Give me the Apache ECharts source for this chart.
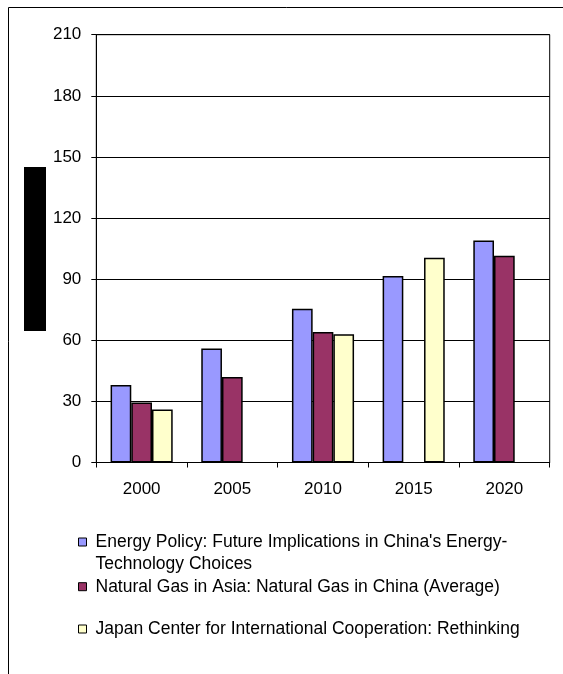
<!DOCTYPE html>
<html>
<head>
<meta charset="utf-8">
<script src="https://cdn.jsdelivr.net/npm/echarts@6/dist/echarts.min.js"></script>
<style>
html,body{margin:0;padding:0;background:#fff;}
#chart{width:563px;height:674px;}
</style>
</head>
<body>
<div id="chart"></div>
<script>
const categories = ['2000', '2005', '2010', '2015', '2020'];
const seriesNames = [
  "Energy Policy: Future Implications in China's Energy-Technology Choices",
  "Natural Gas in Asia: Natural Gas in China (Average)",
  "Japan Center for International Cooperation: Rethinking"
];
const energyPolicy = [38, 56, 75.5, 91.5, 109];
const naturalGas = [29.5, 42, 64, null, 101.5];
const japanCenter = [26, null, 63, 100.5, null];
const yTicks = [0, 30, 60, 90, 120, 150, 180, 210];

const FONT = '"Liberation Sans", Arial, sans-serif';
const colors = ['#9999FF', '#993366', '#FFFFCC'];
const LH = 22.3;
const LFS = 17.5;

const chart = echarts.init(document.getElementById('chart'), null, {renderer: 'canvas'});

function legendFor(i, top, extra) {
  return Object.assign({
    data: [seriesNames[i]],
    orient: 'vertical',
    left: 78,
    top: top,
    padding: 0,
    icon: 'rect',
    itemWidth: 8,
    itemHeight: 8,
    selectedMode: false,
    itemStyle: {borderColor: '#000', borderWidth: 1},
    textStyle: {
      fontFamily: FONT, fontSize: LFS, color: '#000', lineHeight: LH,
      padding: [0, 0, 0, 4]
    }
  }, extra || {});
}

const dataSets = [energyPolicy, naturalGas, japanCenter];

const option = {
  animation: false,
  backgroundColor: '#fff',
  grid: {
    left: 96.3, right: 13.3, top: 34.7, bottom: 211.5,
    show: true, borderColor: '#000', borderWidth: 1, containLabel: false
  },
  legend: [
    legendFor(0, 542 - 1.5 * LH, {
      formatter: function (n) {
        return '{s| }\n{t|' + n.replace('Energy-Technology', 'Energy-}\n{t|Technology') + '}';
      },
      textStyle: {
        fontFamily: FONT, fontSize: LFS, color: '#000', lineHeight: LH,
        padding: [0, 0, 0, 4],
        rich: {
          s: {fontFamily: FONT, fontSize: LFS, lineHeight: LH, color: '#000'},
          t: {fontFamily: FONT, fontSize: LFS, lineHeight: LH, color: '#000'}
        }
      }
    }),
    legendFor(1, 586.7 - LH / 2),
    legendFor(2, 629 - LH / 2)
  ],
  xAxis: {
    type: 'category',
    data: categories,
    axisLine: {show: true, lineStyle: {color: '#000', width: 1}},
    axisTick: {show: true, alignWithLabel: false, length: 5, lineStyle: {color: '#000'}},
    axisLabel: {fontFamily: FONT, fontSize: 17, color: '#000', margin: 18}
  },
  yAxis: {
    type: 'value',
    min: yTicks[0], max: yTicks[yTicks.length - 1], interval: 30,
    axisLine: {show: true, lineStyle: {color: '#000', width: 1}},
    axisTick: {show: true, length: 5, lineStyle: {color: '#000'}},
    axisLabel: {fontFamily: FONT, fontSize: 17, color: '#000', margin: 15},
    splitLine: {show: true, lineStyle: {color: '#000', width: 1}}
  },
  series: dataSets.map(function (d, i) {
    return {
      name: seriesNames[i],
      type: 'bar',
      data: d,
      barGap: '0%',
      barCategoryGap: '31.5%',
      itemStyle: {color: colors[i], borderColor: '#000', borderWidth: 1.5}
    };
  }),
  graphic: [
    {type: 'rect', shape: {x: 8.5, y: 7.5, width: 700, height: 800}, style: {fill: 'none', stroke: '#000', lineWidth: 1}, silent: true},
    {type: 'rect', shape: {x: 24, y: 167, width: 22, height: 164}, style: {fill: '#000'}, silent: true}
  ]
};
chart.setOption(option);
</script>
</body>
</html>
